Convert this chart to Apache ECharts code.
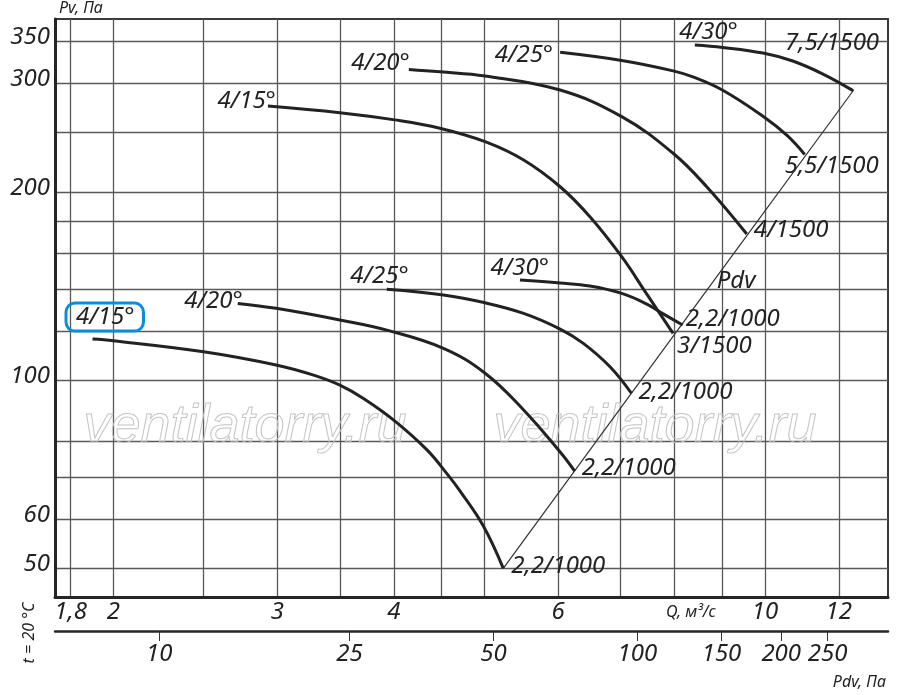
<!DOCTYPE html>
<html>
<head>
<meta charset="utf-8">
<title>Pv - Q</title>
<script src="https://cdn.jsdelivr.net/npm/echarts@6/dist/echarts.min.js"></script>
<style>
  html, body { margin: 0; padding: 0; background: #fff; }
  #chart { width: 900px; height: 695px; }
</style>
</head>
<body>
<div id="chart"></div>
<script>
// axis values
const qGrid = [1.8, 2, 2.5, 3, 3.5, 4, 4.5, 5, 6, 7, 8, 9, 10, 12];
const qTicks = [1.8, 2, 3, 4, 6, 10, 12];
const pvGrid = [50, 60, 70, 80, 100, 120, 140, 160, 180, 200, 250, 300, 350];
const pvTicks = [50, 60, 100, 200, 300, 350];
const pdvTicks = [10, 25, 50, 100, 150, 200, 250];

// blade angle labels and motor kW / rpm labels
const bladeAngles = ['4/15°', '4/20°', '4/25°', '4/30°'];
const motors1000 = ['2,2/1000', '2,2/1000', '2,2/1000', '2,2/1000'];
const motors1500 = ['3/1500', '4/1500', '5,5/1500', '7,5/1500'];

// curves [Q m3/s, Pv Pa], 1000 rpm
const c1000_15 = [[1.90,116.5],[2.00,115.8],[2.50,111.2],[2.99,105.9],[3.28,102.0],[3.50,98.3],[3.71,93.6],[4.01,86.1],[4.34,77.4],[4.57,70.6],[4.71,66.5],[4.99,58.4],[5.24,50.0]];
const c1000_20 = [[2.72,132.9],[2.99,130.5],[3.50,125.0],[3.94,120.3],[4.52,112.6],[5.01,102.7],[5.51,89.7],[6.03,76.8],[6.25,71.6]];
const c1000_25 = [[3.93,140.0],[4.52,137.1],[5.01,133.2],[5.51,128.1],[6.03,120.9],[6.38,114.8],[6.82,105.2],[7.19,95.4]];
const c1000_30 = [[5.46,144.9],[6.03,143.3],[6.49,141.7],[7.02,137.9],[7.46,132.7],[7.77,128.0],[8.16,122.7]];
// 1500 rpm
const c1500_15 = [[2.93,275.4],[3.50,268.7],[4.01,261.6],[4.48,253.7],[5.01,241.4],[5.51,225.6],[6.03,204.4],[6.49,183.0],[7.02,157.9],[7.46,137.9],[7.97,119.0]];
const c1500_20 = [[4.15,315.2],[4.48,312.4],[5.01,307.6],[6.03,292.1],[7.02,264.8],[7.97,231.3],[8.66,204.4],[9.56,171.7]];
const c1500_25 = [[6.03,335.7],[7.02,325.7],[7.97,313.5],[8.37,306.6],[9.01,291.8],[9.95,265.1],[10.56,247.0],[11.03,230.3]];
const c1500_30 = [[8.41,344.9],[9.01,341.8],[9.95,334.8],[10.71,325.1],[11.54,309.8],[12.43,291.4]];

// dynamic pressure line (start, label point, end)
const pdvLine = [[5.24,50.0],[8.81,144.4],[12.45,292.1]];

// label placement (px offsets from curve ends)
const startOff1000 = [[51,-22],[5,-2],[22,-13],[29,-12]];
const endOff1000 = [[8,-2],[7,-3],[7,-1],[3,-6]];
const startOff1500 = [[8,-5],[1,-6],[-7,3],[43,-13]];
const endOff1500 = [[4,13],[7,-4],[-20,12],[-68,-47]];

const FONT = 'Noto Sans';
const INK = '#222';

const txt = (size) => ({
  fontFamily: FONT, fontStyle: 'italic', fontSize: size, color: INK
});

const labelPoint = (p, text, align, offset, extra) => ({
  value: p,
  symbol: 'circle',
  symbolSize: 1,
  itemStyle: { color: 'rgba(0,0,0,0)' },
  label: Object.assign({
    show: true, position: 'inside', formatter: text,
    align: align, verticalAlign: 'middle', offset: offset
  }, txt(24), extra || {})
});

function curve(points, startText, endText, sOff, eOff, boxed) {
  const last = points.length - 1;
  const box = boxed ? {
    borderColor: '#0a8ddc', borderWidth: 3, borderRadius: 9, padding: [2, 9, 2, 10]
  } : null;
  const data = points.map((p, i) => {
    if (i === 0) return labelPoint(p, startText, 'right', sOff, box);
    if (i === last) return labelPoint(p, endText, 'left', eOff);
    return p;
  });
  return {
    type: 'line', data: data, symbol: 'none', smooth: 0.4,
    lineStyle: { color: INK, width: 3 }, z: 3, silent: true
  };
}

const series1000 = [c1000_15, c1000_20, c1000_25, c1000_30];
const series1500 = [c1500_15, c1500_20, c1500_25, c1500_30];

const series = [];
series.push({
  type: 'line', symbol: 'none', z: 2, silent: true,
  lineStyle: { color: '#333', width: 1.2 },
  data: pdvLine.map((p, i) => i === 1 ? labelPoint(p, 'Pdv', 'left', [3, 0]) : p)
});
series1000.forEach((c, i) => series.push(curve(c, bladeAngles[i], motors1000[i], startOff1000[i], endOff1000[i], i === 0)));
series1500.forEach((c, i) => series.push(curve(c, bladeAngles[i], motors1500[i], startOff1500[i], endOff1500[i], false)));

const comma = v => String(v).replace('.', ',');
const gridLine = { show: true, lineStyle: { color: '#595959', width: 1.3 } };

const chart = echarts.init(document.getElementById('chart'));
chart.setOption({
  animation: false,
  backgroundColor: '#fff',
  grid: {
    left: 55, top: 19, right: 12, bottom: 98,
    show: true, borderColor: '#3a3a3a', borderWidth: 2,
    containLabel: false, outerBoundsMode: 'none'
  },
  xAxis: [
    {
      type: 'log', logBase: 10, min: 1.732, max: 13.55, position: 'bottom',
      axisLine: { show: true, onZero: false, lineStyle: { color: '#262626', width: 3 } },
      axisTick: { show: false, customValues: qGrid },
      minorTick: { show: false }, minorSplitLine: { show: false },
      splitLine: gridLine,
      axisLabel: Object.assign({ customValues: qTicks, formatter: comma, margin: 3 }, txt(24))
    },
    {
      type: 'log', logBase: 10, min: 6.05, max: 334.5, position: 'bottom', offset: 34,
      axisLine: { show: true, onZero: false, lineStyle: { color: '#262626', width: 2.5 } },
      axisTick: { show: true, customValues: pdvTicks, length: 10, lineStyle: { color: '#333', width: 1 } },
      splitLine: { show: false },
      axisLabel: Object.assign({ customValues: pdvTicks, margin: 11 }, txt(24))
    }
  ],
  yAxis: {
    type: 'log', logBase: 10, min: 44.98, max: 379.6,
    name: 'Pv, Па', nameLocation: 'end', nameGap: 3,
    nameTextStyle: Object.assign({ align: 'left', verticalAlign: 'bottom', padding: [0, 0, 0, 4] }, txt(16)),
    axisLine: { show: true, onZero: false, lineStyle: { color: '#262626', width: 3 } },
    axisTick: { show: false, customValues: pvGrid },
    minorTick: { show: false }, minorSplitLine: { show: false },
    splitLine: gridLine,
    axisLabel: Object.assign({ customValues: pvTicks, margin: 5, verticalAlign: 'bottom', lineHeight: 8 }, txt(24))
  },
  graphic: [
    { type: 'text', z: 1, silent: true, style: { text: 'ventilatorry.ru', x: 245, y: 427, align: 'center', verticalAlign: 'middle', font: 'italic 54px "Liberation Sans"', fill: 'rgba(0,0,0,0)', stroke: '#c4c4c4', lineWidth: 1 } },
    { type: 'text', z: 1, silent: true, style: { text: 'ventilatorry.ru', x: 655, y: 427, align: 'center', verticalAlign: 'middle', font: 'italic 54px "Liberation Sans"', fill: 'rgba(0,0,0,0)', stroke: '#c4c4c4', lineWidth: 1 } },
    { type: 'text', silent: true, style: { text: 'Q, м³/с', x: 666, y: 612, align: 'left', verticalAlign: 'middle', font: 'italic 16px "Noto Sans"', fill: INK } },
    { type: 'text', silent: true, style: { text: 'Pdv, Па', x: 886, y: 682, align: 'right', verticalAlign: 'middle', font: 'italic 16px "Noto Sans"', fill: INK } },
    { type: 'text', silent: true, x: 29, y: 633, rotation: Math.PI / 2, style: { text: 't = 20 °C', x: 0, y: 0, align: 'center', verticalAlign: 'middle', font: 'italic 16px "Noto Sans"', fill: INK } }
  ],
  series: series
});
</script>
</body>
</html>
